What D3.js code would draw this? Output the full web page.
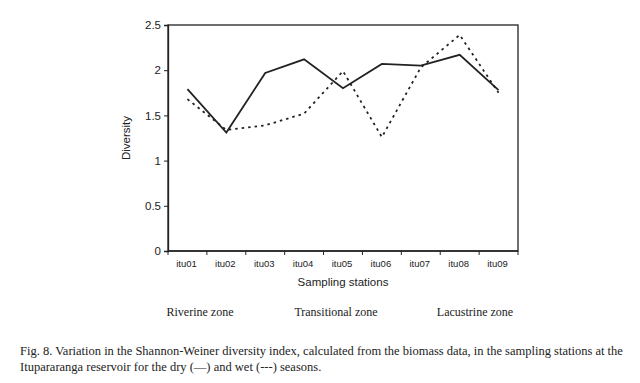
<!DOCTYPE html>
<html><head><meta charset="utf-8">
<script src="https://cdn.jsdelivr.net/npm/d3@7"></script>
<style>body{margin:0;background:#fff}svg{display:block}</style>
</head><body>
<svg id="c" width="640" height="383"></svg>
<script>
const stations = ["itu01","itu02","itu03","itu04","itu05","itu06","itu07","itu08","itu09"];
const dry = [1.79,1.31,1.97,2.12,1.80,2.07,2.05,2.17,1.78];
const wet = [1.68,1.34,1.39,1.52,1.99,1.26,2.03,2.39,1.75];
const yTicks = [0,0.5,1,1.5,2,2.5];
const zones = ["Riverine zone","Transitional zone","Lacustrine zone"];
const caption = ["Fig. 8. Variation in the Shannon-Weiner diversity index, calculated from the biomass data, in the sampling stations at the",
                 "Itupararanga reservoir for the dry (\u2014) and wet (---) seasons."];

const svg = d3.select("#c");
const L=168, R=518, T=25, B=251;
const x = d3.scaleBand().domain(stations).range([L,R]);
const y = d3.scaleLinear().domain([0,2.5]).range([B,T]);
const sans = "'Liberation Sans', Arial, sans-serif";
const serif = "'Liberation Serif', 'Times New Roman', serif";

// frame
svg.append("rect").attr("x",L).attr("y",T).attr("width",R-L).attr("height",B-T)
  .attr("fill","none").attr("stroke","#222").attr("stroke-width",1.3);

// y axis
const ya = svg.append("g").attr("transform",`translate(${L},0)`)
  .call(d3.axisLeft(y).tickValues(yTicks).tickSize(4).tickPadding(3).tickFormat(d3.format("")));
ya.select(".domain").attr("stroke","#222").attr("stroke-width",1.3);
ya.selectAll("line").attr("stroke","#222");
ya.selectAll("text").attr("font-family",sans).attr("font-size",11.5).attr("fill","#222");

// x axis: ticks at band boundaries
const xa = svg.append("g").attr("transform",`translate(0,${B})`);
xa.append("line").attr("x1",L).attr("x2",R).attr("stroke","#222").attr("stroke-width",1.3);
const bounds = stations.map(s=>x(s)).concat([x(stations[stations.length-1])+x.bandwidth()]);
xa.selectAll("line.t").data(bounds).enter().append("line").attr("class","t")
  .attr("x1",d=>d).attr("x2",d=>d).attr("y1",0).attr("y2",4).attr("stroke","#222");
xa.selectAll("text").data(stations).enter().append("text")
  .attr("x",d=>x(d)+x.bandwidth()/2-1).attr("y",16).attr("text-anchor","middle")
  .attr("font-family",sans).attr("font-size",9.5).attr("fill","#222").text(d=>d);

// axis titles
svg.append("text").attr("transform",`translate(130,${(T+B)/2}) rotate(-90)`)
  .attr("text-anchor","middle").attr("font-family",sans).attr("font-size",11.5).attr("fill","#222").text("Diversity");
svg.append("text").attr("x",(L+R)/2).attr("y",286).attr("text-anchor","middle")
  .attr("font-family",sans).attr("font-size",11.5).attr("fill","#222").text("Sampling stations");

// lines
const line = d3.line().x((d,i)=>x(stations[i])+x.bandwidth()/2).y(d=>y(d));
svg.append("path").datum(wet).attr("d",line).attr("fill","none").attr("stroke","#222")
  .attr("stroke-width",1.8).attr("stroke-dasharray","2.5,4");
svg.append("path").datum(dry).attr("d",line).attr("fill","none").attr("stroke","#222")
  .attr("stroke-width",1.8);

// zones
const zx = [200,336,475];
svg.selectAll("text.z").data(zones).enter().append("text").attr("class","z")
  .attr("x",(d,i)=>zx[i]).attr("y",316).attr("text-anchor","middle")
  .attr("font-family",serif).attr("font-size",12).attr("fill","#222").text(d=>d);

// caption
svg.selectAll("text.cap").data(caption).enter().append("text").attr("class","cap")
  .attr("x",20).attr("y",(d,i)=>355+i*16)
  .attr("font-family",serif).attr("font-size",12.5).attr("fill","#222").text(d=>d);
</script>
</body></html>
